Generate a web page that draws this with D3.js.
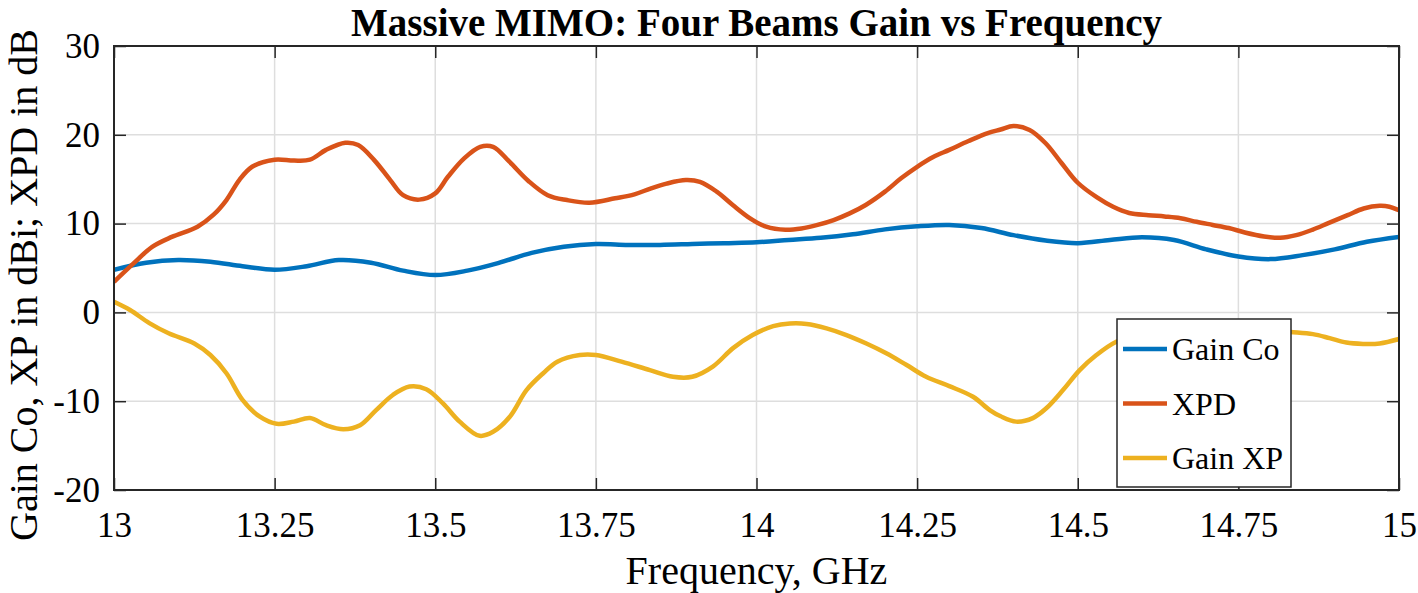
<!DOCTYPE html>
<html>
<head>
<meta charset="utf-8">
<script src="https://cdn.jsdelivr.net/npm/d3@7"></script>
<style>
  body { margin: 0; background: #fff; }
  text { font-family: "Liberation Serif", "Times New Roman", serif; fill: #000; }
</style>
</head>
<body>
<svg id="chart" width="1418" height="593"></svg>
<script>
// values (GHz, dB)
const xTicks = [13, 13.25, 13.5, 13.75, 14, 14.25, 14.5, 14.75, 15]
const xTickLabels = ['13', '13.25', '13.5', '13.75', '14', '14.25', '14.5', '14.75', '15']
const yTicks = [-20, -10, 0, 10, 20, 30]
const yTickLabels = ['-20', '-10', '0', '10', '20', '30']

const coFreq = d3.range(41).map(i => 13 + i * 0.05)
const gainCo = [4.8,5.6,5.9,5.7,5.2,4.8,5.2,5.9,5.6,4.7,4.2,4.7,5.6,6.7,7.4,7.7,7.6,7.6,7.7,7.8,
    7.9,8.15,8.4,8.8,9.35,9.7,9.85,9.5,8.7,8.1,7.8,8.15,8.45,8.15,7.1,6.3,6.0,6.45,7.1,7.95,8.5]

const xpdFreq = [13.0,13.03,13.06,13.09,13.13,13.155,13.175,13.195,13.215,13.25,13.28,13.305,13.33,13.36,13.38,
    13.405,13.43,13.45,13.475,13.5,13.52,13.545,13.57,13.59,13.615,13.645,13.675,13.705,13.74,13.78,13.81,
    13.835,13.86,13.89,13.912,13.938,13.963,13.99,14.015,14.045,14.07,14.095,14.12,14.145,14.17,14.2,14.225,
    14.25,14.275,14.3,14.33,14.36,14.38,14.4,14.425,14.45,14.475,14.5,14.53,14.555,14.58,14.61,14.635,14.66,
    14.685,14.71,14.735,14.76,14.79,14.815,14.84,14.865,14.89,14.92,14.945,14.97,14.985,15.0]
const xpd = [3.45,5.5,7.4,8.5,9.65,11.0,12.65,14.9,16.4,17.2,17.1,17.2,18.3,19.1,18.85,
    17.15,14.9,13.2,12.7,13.4,15.3,17.35,18.65,18.65,17.0,14.8,13.2,12.65,12.35,12.85,13.3,
    13.95,14.5,14.9,14.7,13.6,12.1,10.6,9.65,9.3,9.45,9.85,10.4,11.15,12.1,13.6,15.1,
    16.4,17.5,18.3,19.3,20.2,20.6,21.0,20.55,19.05,16.8,14.6,12.95,11.9,11.2,10.95,10.8,10.6,
    10.2,9.85,9.5,9.0,8.55,8.4,8.7,9.3,10.05,10.95,11.7,12.0,11.9,11.5]

const xpFreq = [13.0,13.025,13.055,13.085,13.125,13.15,13.175,13.2,13.227,13.253,13.28,13.305,13.33,13.357,
    13.383,13.408,13.434,13.46,13.486,13.512,13.538,13.569,13.59,13.616,13.642,13.668,13.69,13.725,13.75,
    13.79,13.834,13.87,13.9,13.932,13.963,13.994,14.026,14.052,14.078,14.109,14.14,14.171,14.202,14.233,
    14.264,14.3,14.337,14.363,14.38,14.404,14.43,14.451,14.477,14.503,14.529,14.56,14.6,14.7,14.8,14.831,
    14.866,14.892,14.918,14.944,14.97,15.0]
const gainXp = [1.2,0.27,-1.2,-2.35,-3.5,-4.8,-6.85,-9.85,-11.75,-12.55,-12.3,-11.9,-12.7,-13.15,
    -12.7,-11.0,-9.3,-8.35,-8.65,-10.25,-12.3,-13.9,-13.45,-11.75,-8.75,-6.85,-5.55,-4.8,-4.8,
    -5.55,-6.5,-7.25,-7.25,-6.1,-4.05,-2.55,-1.55,-1.25,-1.3,-1.8,-2.55,-3.5,-4.6,-5.9,
    -7.25,-8.3,-9.5,-11.0,-11.7,-12.3,-11.9,-10.8,-8.75,-6.5,-4.8,-3.3,-2.4,-2.0,-2.0,-2.2,
    -2.45,-2.9,-3.4,-3.55,-3.5,-3.0]

const seriesNames = ['Gain Co', 'XPD', 'Gain XP']
const seriesColors = ['#0072BD', '#D95319', '#EDB120']

const serif = '"Liberation Serif", "Times New Roman", serif'
const margin = {left: 114, right: 19, top: 46, bottom: 103}
const width = 1418 - margin.left - margin.right
const height = 593 - margin.top - margin.bottom

const svg = d3.select('#chart')
const g = svg.append('g').attr('transform', `translate(${margin.left},${margin.top})`)

const x = d3.scaleLinear().domain([13, 15]).range([0, width])
const y = d3.scaleLinear().domain([-20, 30]).range([height, 0])

// grid
g.append('g').selectAll('line').data(xTicks).join('line')
    .attr('x1', d => x(d)).attr('x2', d => x(d)).attr('y1', 0).attr('y2', height)
    .attr('stroke', '#dedede').attr('stroke-width', 1.5)
g.append('g').selectAll('line').data(yTicks).join('line')
    .attr('y1', d => y(d)).attr('y2', d => y(d)).attr('x1', 0).attr('x2', width)
    .attr('stroke', '#dedede').attr('stroke-width', 1.5)

svg.append('clipPath').attr('id', 'clip').append('rect')
    .attr('width', width).attr('height', height)

const series = [
    coFreq.map((f, i) => [f, gainCo[i]]),
    xpdFreq.map((f, i) => [f, xpd[i]]),
    xpFreq.map((f, i) => [f, gainXp[i]])
]

const line = d3.line()
    .x(d => x(d[0])).y(d => y(d[1]))
    .curve(d3.curveCatmullRom.alpha(0.5))

g.append('g').attr('clip-path', 'url(#clip)')
    .selectAll('path').data(series).join('path')
    .attr('d', line)
    .attr('fill', 'none')
    .attr('stroke', (d, i) => seriesColors[i])
    .attr('stroke-width', 4.5)
    .attr('stroke-linejoin', 'round')

// axes: ticks pointing inward, box on all sides
const axisStyle = sel => {
    sel.attr('font-family', serif).attr('font-size', 35)
    sel.select('.domain').remove()
    sel.selectAll('line').attr('stroke', '#262626').attr('stroke-width', 1.5)
    sel.selectAll('text').attr('fill', '#000')
}

g.append('g').attr('transform', `translate(0,${height})`)
    .call(d3.axisBottom(x).tickValues(xTicks).tickFormat((d, i) => xTickLabels[i]).tickSizeInner(-12).tickPadding(22))
    .call(axisStyle)
g.append('g')
    .call(d3.axisTop(x).tickValues(xTicks).tickFormat('').tickSizeInner(-12))
    .call(axisStyle)
g.append('g')
    .call(d3.axisLeft(y).tickValues(yTicks).tickFormat((d, i) => yTickLabels[i]).tickSizeInner(-12).tickPadding(14))
    .call(axisStyle)
g.append('g').attr('transform', `translate(${width},0)`)
    .call(d3.axisRight(y).tickValues(yTicks).tickFormat('').tickSizeInner(-12))
    .call(axisStyle)

g.selectAll('.tick text').filter(function() { return this.textContent === '' }).remove()

g.append('rect')
    .attr('width', width).attr('height', height)
    .attr('fill', 'none').attr('stroke', '#262626').attr('stroke-width', 2)

// legend
const legend = svg.append('g').attr('transform', 'translate(1117,319)')
legend.append('rect')
    .attr('width', 174).attr('height', 168)
    .attr('fill', '#fff').attr('stroke', '#262626').attr('stroke-width', 1.5)
const items = legend.selectAll('g').data(seriesNames).join('g')
    .attr('transform', (d, i) => `translate(0,${30 + i * 54.5})`)
items.append('line')
    .attr('x1', 6).attr('x2', 50)
    .attr('stroke', (d, i) => seriesColors[i]).attr('stroke-width', 4.5)
items.append('text')
    .attr('x', 55).attr('y', 11)
    .style('font-size', '32px')
    .text(d => d)

// titles
svg.append('text')
    .attr('x', margin.left + width / 2).attr('y', 36)
    .attr('text-anchor', 'middle')
    .style('font-size', '39px').style('font-weight', 'bold')
    .text('Massive MIMO: Four Beams Gain vs Frequency')

svg.append('text')
    .attr('x', margin.left + width / 2).attr('y', 584)
    .attr('text-anchor', 'middle')
    .style('font-size', '40px')
    .text('Frequency, GHz')

svg.append('text')
    .attr('transform', `translate(37,285) rotate(-90)`)
    .attr('text-anchor', 'middle')
    .style('font-size', '40px')
    .text('Gain Co, XP in dBi; XPD in dB')
</script>
</body>
</html>
